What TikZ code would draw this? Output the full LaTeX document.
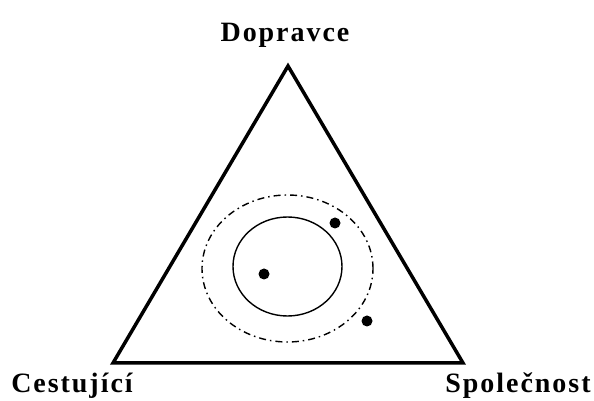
\documentclass[tikz,border=0pt]{standalone}
\usepackage{fontspec}
\setmainfont{Liberation Serif}
\usepackage{tikz}
\usetikzlibrary{positioning,shapes.geometric}

\tikzset{
  corner/.style={font=\bfseries\fontsize{28}{30}\selectfont\addfontfeatures{LetterSpace=7}, anchor=base, inner sep=0pt},
  bod/.style={circle, fill=black, inner sep=0pt, minimum size=11pt},
}

\begin{document}
\begin{tikzpicture}[x=1pt, y=1pt]
\useasboundingbox (0,0) rectangle (594,401);
\coordinate (top) at (288,335);
\coordinate (left) at (113,38);
\coordinate (right) at (463,38);
\draw[line width=3.5pt, line join=miter] (top) -- (left) -- (right) -- cycle;

\node[corner] (dopravce) at (285,359) {Dopravce};
\node[corner] (cestujici) at (72,8) {Cestující};
\node[corner] (spolecnost) at (518,8) {Společnost};

% okruhy
\node[draw, ellipse, line width=1.4pt, minimum width=109pt, minimum height=99pt] (inner) at (287.5,134.5) {};
\node[draw, ellipse, line width=1.4pt, dash pattern=on 7pt off 4pt on 1.5pt off 4pt,
      minimum width=171pt, minimum height=147pt] (outer) at (287.5,132.5) {};

\node[bod] (b1) at (264,127) {};
\node[bod] (b2) at (335,178) {};
\node[bod] (b3) at (367,80) {};
\end{tikzpicture}
\end{document}
